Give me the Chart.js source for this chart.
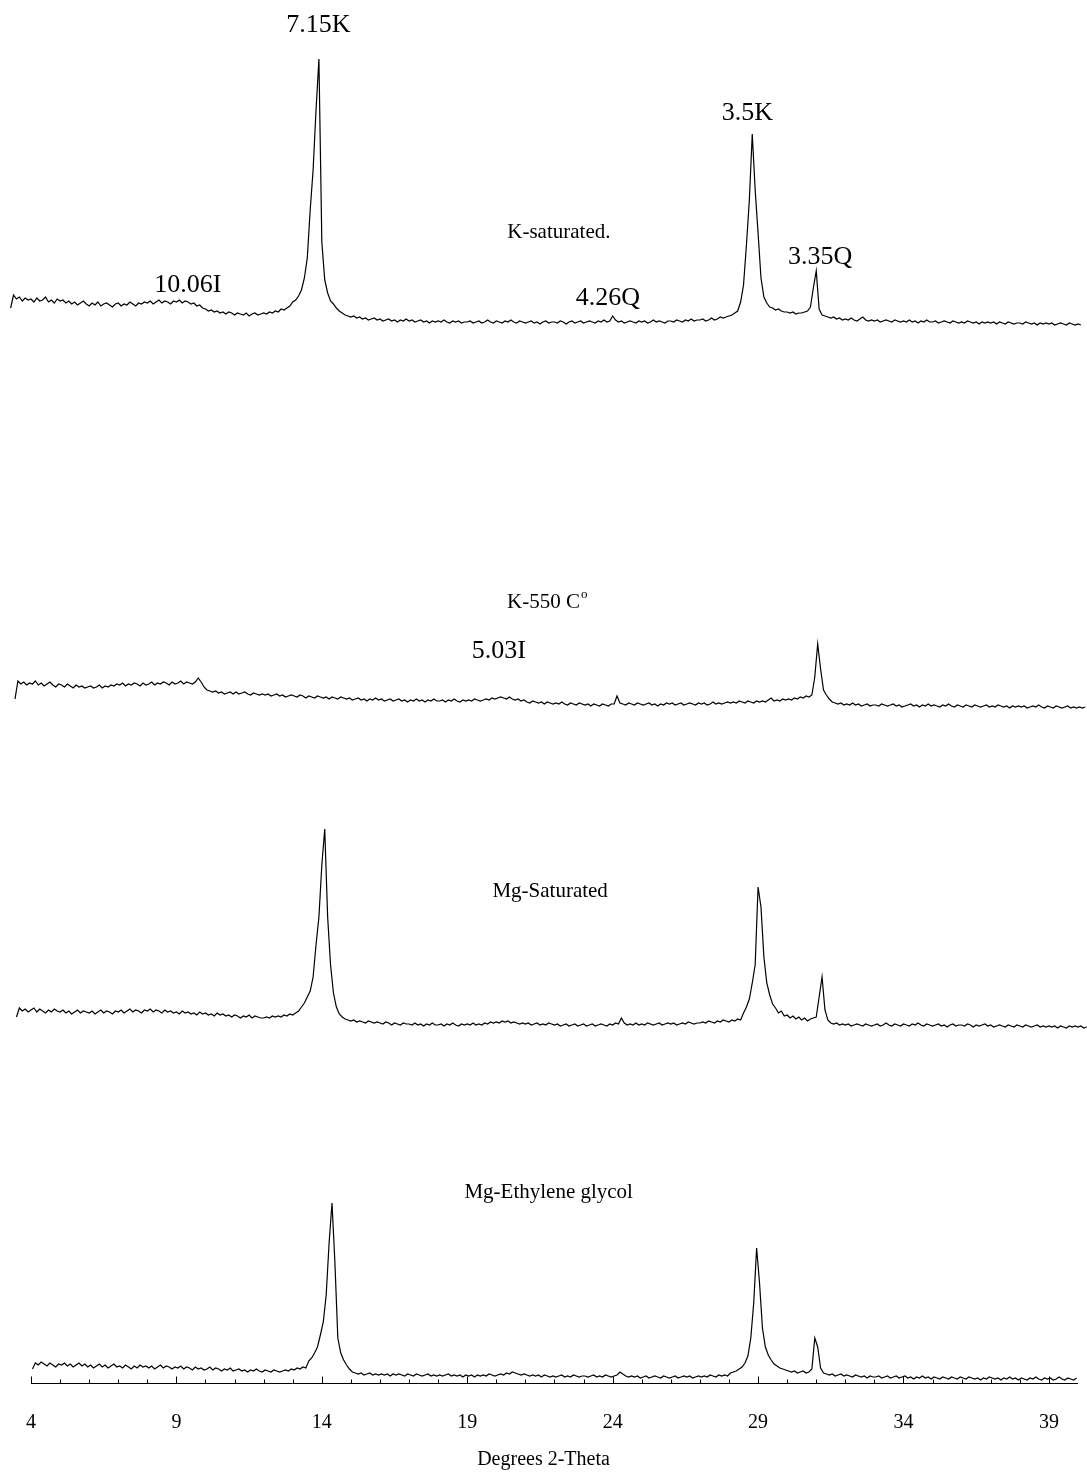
<!DOCTYPE html>
<html lang="en">
<head>
  <meta charset="UTF-8" />
  <title>XRD patterns - clay fraction</title>
  <script src="https://cdn.jsdelivr.net/npm/chart.js"></script>
  <style>
    html, body {
      margin: 0;
      padding: 0;
      background: #fff;
    }

    .chart-container {
      position: relative;
      width: 1087px;
      height: 1472px;
    }
  </style>
</head>
<body>
  <div class="chart-container">
    <canvas id="xrdChart"></canvas>
  </div>

  <script>
    // scans: first 2-theta and step, then counts (a.u.) above each trace's own base line
    const step = 0.1;

    const kSatStart = 3.3;
    const kSat = [
      22, 35, 31, 33, 29, 32, 30,
      31, 28, 32, 29, 30, 33, 28, 30, 27, 31,
      29, 30, 27, 29, 26, 28, 25, 27, 29, 26,
      24, 27, 25, 28, 24, 26, 27, 25, 23, 26,
      27, 24, 26, 25, 28, 26, 24, 27, 26, 28,
      27, 29, 26, 28, 30, 27, 29, 28, 26, 29,
      28, 30, 27, 29, 28, 26, 27, 24, 25, 22,
      21, 19, 20, 18, 19, 17, 18, 16, 18, 17,
      15, 17, 16, 15, 17, 14, 16, 17, 15, 16,
      17, 16, 18, 17, 19, 18, 21, 20, 22, 24,
      28, 30, 34, 40, 52, 72, 120, 160, 220, 271,
      88, 50, 37, 29, 26, 22, 19, 17, 15, 14,
      13, 14, 12, 13, 11, 12, 10, 11, 12, 10,
      11, 9, 10, 11, 9, 10, 8, 10, 9, 11,
      9, 10, 8, 9, 10, 8, 9, 7, 9, 8,
      9, 8, 10, 8, 7, 9, 8, 9, 7, 8,
      8, 9, 7, 8, 9, 7, 8, 10, 8, 7,
      9, 8, 7, 9, 8, 10, 8, 7, 9, 8,
      7, 8, 9, 7, 8, 6, 8, 9, 7, 8,
      8, 7, 9, 8, 6, 8, 9, 7, 8, 9,
      7, 8, 9, 8, 7, 9, 8, 10, 8, 9,
      14, 10, 8, 9, 7, 8, 9, 8, 7, 9,
      8, 9, 7, 8, 10, 8, 9, 8, 7, 9,
      9, 8, 10, 9, 8, 10, 9, 11, 9, 10,
      10, 11, 9, 10, 12, 10, 11, 13, 12, 13,
      14, 15, 17, 19, 28, 45, 85, 130, 196, 140,
      97, 52, 33, 27, 23, 22, 20, 21, 19, 18,
      18, 17, 18, 16, 17, 17, 18, 19, 23, 42,
      59, 21, 15, 14, 13, 12, 13, 11, 12, 10,
      11, 10, 12, 10, 9, 11, 13, 10, 9, 10,
      9, 10, 8, 9, 10, 9, 8, 10, 9, 8,
      9, 8, 10, 8, 9, 7, 9, 8, 10, 8,
      8, 9, 7, 8, 9, 8, 7, 9, 8, 7,
      8, 7, 9, 8, 7, 8, 6, 8, 7, 8,
      7, 8, 6, 8, 7, 6, 8, 7, 6, 7,
      7, 6, 8, 7, 6, 7, 5, 7, 6, 7,
      6, 7, 5, 6, 7, 6, 5, 7, 6, 5,
      6, 5
    ];

    const k550Start = 3.45;
    const k550 = [
      16, 34, 31, 33, 30, 32,
      31, 34, 30, 32, 29, 31, 33, 30, 28, 31,
      30, 28, 31, 29, 27, 30, 28, 29, 27, 28,
      29, 27, 28, 30, 27, 29, 28, 30, 29, 31,
      30, 32, 29, 31, 30, 32, 31, 29, 32, 30,
      31, 33, 30, 32, 31, 33, 32, 30, 33, 31,
      32, 34, 31, 33, 32, 31, 33, 37, 33, 28,
      25, 24, 23, 24, 22, 23, 21, 22, 23, 21,
      23, 21, 22, 23, 21, 20, 22, 21, 20, 21,
      20, 21, 19, 20, 21, 19, 20, 18, 19, 20,
      19, 18, 20, 19, 17, 19, 18, 17, 19, 18,
      17, 18, 16, 18, 17, 16, 18, 17, 16, 17,
      15, 16, 17, 15, 16, 14, 16, 15, 17, 15,
      16, 14, 15, 16, 14, 15, 16, 14, 15, 13,
      15, 14, 16, 14, 15, 13, 15, 14, 16, 14,
      14, 15, 13, 15, 14, 16, 14, 13, 15, 14,
      15, 14, 16, 15, 14, 15, 16, 15, 17, 16,
      17, 18, 17, 16, 18, 16, 15, 16, 14, 15,
      13, 12, 14, 13, 12, 13, 11, 13, 12, 11,
      12, 11, 13, 11, 10, 12, 11, 10, 12, 11,
      10, 11, 9, 11, 10, 9, 11, 10, 9, 11,
      11, 19, 12, 11, 10, 12, 11, 10, 12, 11,
      10, 11, 12, 10, 11, 9, 11, 10, 12, 11,
      12, 10, 11, 12, 10, 11, 12, 11, 10, 12,
      11, 12, 10, 11, 13, 11, 12, 11, 12, 13,
      12, 13, 12, 14, 13, 12, 14, 13, 12, 14,
      13, 14, 13, 15, 17, 14, 15, 14, 16, 15,
      16, 15, 17, 16, 18, 17, 19, 18, 20, 38,
      71, 46, 25, 20, 16, 13, 12, 11, 12, 10,
      11, 10, 12, 10, 11, 9, 10, 11, 9, 10,
      10, 9, 11, 10, 9, 10, 11, 9, 10, 8,
      9, 10, 11, 9, 10, 8, 10, 9, 11, 9,
      10, 9, 8, 10, 9, 11, 9, 8, 10, 9,
      8, 10, 9, 8, 10, 9, 8, 9, 10, 8,
      9, 8, 10, 9, 8, 9, 7, 9, 8, 9,
      8, 9, 7, 8, 9, 8, 10, 8, 7, 9,
      8, 7, 9, 8, 7, 8, 9, 7, 8, 7,
      8, 7, 8
    ];

    const mgSatStart = 3.5;
    const mgSat = [
      18, 27, 24, 26, 23,
      25, 27, 23, 26, 24, 22, 25, 23, 26, 24,
      23, 25, 22, 24, 21, 23, 25, 22, 24, 23,
      22, 24, 21, 23, 25, 22, 24, 23, 21, 24,
      23, 25, 22, 24, 26, 23, 25, 24, 22, 25,
      24, 26, 23, 25, 24, 22, 25, 23, 24, 22,
      23, 21, 24, 22, 23, 21, 22, 20, 23, 21,
      22, 20, 21, 19, 22, 20, 21, 19, 20, 18,
      20, 19, 17, 19, 18, 20, 17, 19, 18, 17,
      17, 18, 17, 19, 18, 19, 18, 20, 19, 21,
      20, 22, 24, 28, 32, 38, 44, 58, 90, 118,
      170, 206, 118, 70, 42, 28, 21, 18, 16, 15,
      14, 15, 13, 14, 13, 12, 14, 13, 12, 13,
      12, 11, 13, 12, 10, 12, 11, 10, 12, 11,
      11, 10, 12, 10, 11, 9, 11, 10, 12, 10,
      10, 11, 9, 11, 10, 12, 10, 9, 11, 10,
      11, 10, 12, 10, 11, 10, 12, 11, 13, 12,
      13, 12, 14, 13, 14, 12, 13, 12, 11, 12,
      11, 12, 10, 11, 12, 10, 11, 10, 12, 11,
      10, 11, 9, 10, 11, 9, 10, 11, 9, 10,
      11, 9, 10, 11, 9, 10, 11, 10, 9, 11,
      10, 12, 11, 17, 12, 10, 11, 10, 12, 10,
      11, 10, 12, 11, 10, 11, 12, 10, 11, 12,
      11, 12, 10, 11, 12, 11, 13, 12, 11, 12,
      12, 13, 12, 14, 13, 12, 14, 13, 15, 14,
      13, 15, 14, 16, 15, 22, 28, 36, 52, 70,
      148, 128, 78, 52, 40, 31, 27, 22, 24, 19,
      20, 17, 19, 16, 18, 15, 17, 14, 16, 17,
      18, 38, 58, 25, 15, 12, 11, 12, 10, 11,
      10, 11, 9, 10, 11, 10, 9, 11, 10, 9,
      10, 11, 9, 10, 12, 10, 9, 11, 10, 9,
      11, 10, 9, 11, 10, 12, 10, 9, 11, 10,
      9, 10, 11, 9, 10, 8, 10, 11, 9, 10,
      10, 9, 11, 10, 8, 10, 9, 10, 11, 9,
      10, 8, 9, 10, 9, 8, 10, 9, 8, 10,
      9, 8, 10, 9, 8, 9, 10, 8, 9, 8,
      9, 8, 9, 7, 9, 8, 7, 9, 8, 9,
      8, 9, 7, 8
    ];

    const mgEgStart = 4.05;
    const mgEg = [
      14, 20, 18, 21, 19, 17, 20, 18, 16, 19,
      18, 20, 17, 19, 16, 18, 20, 17, 19, 16,
      18, 15, 17, 19, 16, 18, 15, 17, 19, 16,
      17, 15, 18, 16, 14, 17, 15, 18, 16, 17,
      15, 17, 14, 16, 18, 15, 17, 16, 14, 16,
      15, 17, 14, 16, 15, 13, 16, 14, 15, 13,
      14, 16, 13, 15, 14, 12, 14, 13, 15, 12,
      13, 14, 12, 13, 11, 13, 12, 14, 12, 11,
      13, 12, 11, 13, 12, 11, 12, 13, 12, 14,
      13, 15, 14, 16, 15, 22, 25, 30, 36, 48,
      61, 88, 140, 180, 120, 45, 30, 23, 18, 14,
      11, 10, 9, 10, 8, 9, 10, 8, 9, 8,
      9, 8, 9, 7, 9, 8, 9, 8, 7, 9,
      8, 7, 9, 8, 7, 8, 9, 7, 8, 7,
      8, 7, 8, 9, 7, 8, 7, 8, 6, 8,
      7, 8, 6, 8, 7, 8, 7, 9, 8, 7,
      8, 9, 8, 10, 9, 11, 10, 9, 8, 9,
      8, 7, 8, 7, 8, 6, 8, 7, 6, 7,
      6, 7, 8, 6, 7, 6, 8, 7, 6, 7,
      7, 6, 7, 8, 6, 7, 6, 8, 7, 6,
      7, 8, 11, 9, 7, 6, 7, 6, 7, 5,
      6, 7, 5, 6, 7, 6, 5, 7, 6, 5,
      6, 7, 5, 6, 7, 6, 7, 5, 6, 7,
      6, 7, 6, 8, 7, 6, 8, 7, 8, 7,
      10, 11, 12, 14, 16, 20, 27, 45, 80, 135,
      100, 55, 36, 28, 23, 19, 17, 15, 14, 13,
      12, 11, 12, 10, 11, 12, 10, 11, 14, 45,
      36, 15, 10, 9, 8, 9, 7, 8, 9, 7,
      8, 7, 6, 8, 7, 6, 7, 5, 7, 6,
      6, 7, 5, 6, 7, 5, 6, 7, 5, 6,
      7, 5, 6, 4, 6, 5, 7, 5, 6, 4,
      6, 5, 4, 6, 5, 4, 6, 5, 4, 6,
      5, 4, 6, 5, 4, 5, 3, 5, 4, 6,
      5, 4, 5, 3, 5, 4, 6, 4, 5, 3,
      5, 4, 3, 5, 4, 6, 4, 3, 5, 4,
      5, 3, 4, 6, 4, 3, 5, 4, 3, 5
    ];

    // x axis
    const xTicks = [4, 9, 14, 19, 24, 29, 34, 39];
    const axisFrom = 4;
    const axisTo = 40;

    // text on the plot: 2-theta, height above the trace base, trace index
    const plotLabels = [
      { text: '7.15K', x: 13.88, y: 298, trace: 0, big: true },
      { text: '10.06I', x: 9.39, y: 38, trace: 0, big: true },
      { text: 'K-saturated.', x: 22.15, y: 92, trace: 0 },
      { text: '4.26Q', x: 23.84, y: 25, trace: 0, big: true },
      { text: '3.5K', x: 28.63, y: 210, trace: 0, big: true },
      { text: '3.35Q', x: 31.13, y: 66, trace: 0, big: true },
      { text: 'K-550 C', sup: 'o', x: 21.75, y: 107, trace: 1 },
      { text: '5.03I', x: 20.09, y: 57, trace: 1, big: true },
      { text: 'Mg-Saturated', x: 21.85, y: 138, trace: 2 },
      { text: 'Mg-Ethylene glycol', x: 21.8, y: 185, trace: 3 }
    ];

    // vertical stacking of the four scans
    const traceBase = [1053, 668, 348, 0];
    const yTop = 1383;

    const serif = '"Liberation Serif", "Times New Roman", serif';

    function scanPoints(start, counts, base) {
      return counts.map((c, i) => ({ x: +(start + i * step).toFixed(2), y: base + c }));
    }

    const scans = [
      { label: 'K-saturated', start: kSatStart, counts: kSat },
      { label: 'K-550 C', start: k550Start, counts: k550 },
      { label: 'Mg-Saturated', start: mgSatStart, counts: mgSat },
      { label: 'Mg-Ethylene glycol', start: mgEgStart, counts: mgEg }
    ];

    // bottom axis line with small ticks pointing up
    const axisLine = {
      id: 'axisLine',
      afterDatasetsDraw(chart) {
        const { ctx, chartArea, scales: { x } } = chart;
        const y0 = Math.round(chartArea.bottom) + 0.5;
        ctx.save();
        ctx.strokeStyle = '#000';
        ctx.lineWidth = 1;
        ctx.beginPath();
        ctx.moveTo(x.getPixelForValue(axisFrom), y0);
        ctx.lineTo(x.getPixelForValue(axisTo), y0);
        for (let v = axisFrom; v < axisTo; v++) {
          const px = Math.round(x.getPixelForValue(v)) + 0.5;
          const len = xTicks.includes(v) ? 7 : 4;
          ctx.moveTo(px, y0);
          ctx.lineTo(px, y0 - len);
        }
        ctx.stroke();
        ctx.restore();
      }
    };

    const peakText = {
      id: 'peakText',
      afterDatasetsDraw(chart) {
        const { ctx, scales: { x, y } } = chart;
        ctx.save();
        ctx.fillStyle = '#000';
        ctx.textBaseline = 'alphabetic';
        ctx.textAlign = 'left';
        plotLabels.forEach(l => {
          const font = (l.big ? 26 : 21) + 'px ' + serif;
          const supFont = '13px ' + serif;
          ctx.font = font;
          const w = ctx.measureText(l.text).width;
          let supW = 0;
          if (l.sup) {
            ctx.font = supFont;
            supW = ctx.measureText(l.sup).width + 1;
          }
          const px = x.getPixelForValue(l.x) - (w + supW) / 2;
          const py = y.getPixelForValue(traceBase[l.trace] + l.y);
          ctx.font = font;
          ctx.fillText(l.text, px, py);
          if (l.sup) {
            ctx.font = supFont;
            ctx.fillText(l.sup, px + w + 1, py - 10);
          }
        });
        ctx.restore();
      }
    };

    new Chart(document.getElementById('xrdChart'), {
      type: 'line',
      data: {
        datasets: scans.map((s, i) => ({
          label: s.label,
          data: scanPoints(s.start, s.counts, traceBase[i]),
          borderColor: '#000',
          borderWidth: 1.2,
          pointRadius: 0,
          tension: 0,
          fill: false
        }))
      },
      options: {
        responsive: true,
        maintainAspectRatio: false,
        animation: false,
        devicePixelRatio: 1,
        layout: { padding: 0 },
        plugins: {
          legend: { display: false },
          tooltip: { enabled: false },
          title: { display: false }
        },
        scales: {
          x: {
            type: 'linear',
            min: 2.934,
            max: 40.31,
            grid: { display: false, drawTicks: true, tickLength: 15 },
            border: { display: false },
            afterBuildTicks: axis => {
              axis.ticks = xTicks.map(v => ({ value: v }));
            },
            ticks: {
              color: '#000',
              padding: 13,
              autoSkip: false,
              maxRotation: 0,
              font: { family: serif, size: 20 },
              callback: v => String(v)
            },
            title: {
              display: true,
              text: 'Degrees 2-Theta',
              color: '#000',
              font: { family: serif, size: 20 },
              padding: { top: 0, bottom: 0 }
            }
          },
          y: {
            display: false,
            min: 0,
            max: yTop
          }
        }
      },
      plugins: [axisLine, peakText]
    });
  </script>
</body>
</html>
